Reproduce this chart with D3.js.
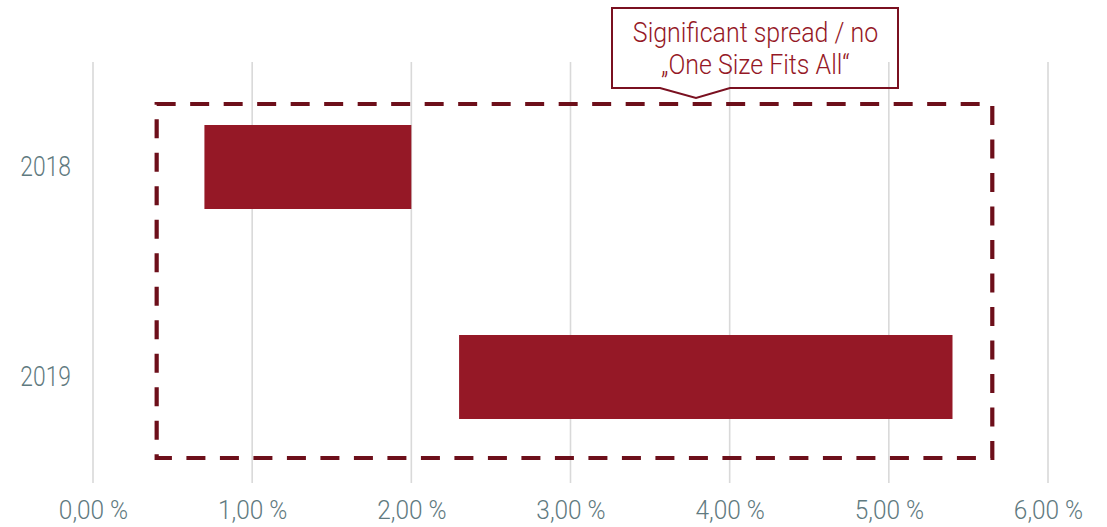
<!DOCTYPE html>
<html>
<head>
<meta charset="utf-8">
<script src="https://cdn.jsdelivr.net/npm/d3@7"></script>
<style>
  html, body { margin: 0; padding: 0; background: #fff; }
  svg { display: block; }
  text { font-family: Roboto, "Noto Sans", sans-serif; font-weight: 300; }
</style>
</head>
<body>
<svg id="chart" width="1107" height="527"></svg>
<script>
// Interest-rate range per year (percent)
const years = ["2018", "2019"];
const rangeLow = [0.70, 2.30];
const rangeHigh = [2.00, 5.40];
const xTicks = [0, 1, 2, 3, 4, 5, 6];
const highlightRange = [0.40, 5.65];
const calloutLines = ["Significant spread / no", "\u201EOne Size Fits All\u201C"];

const svg = d3.select("#chart");

const x = d3.scaleLinear().domain([0, 6]).range([93, 1048]);
const y = d3.scaleBand().domain(years).range([62, 482]).paddingInner(0.6).paddingOuter(0.3);

const axisColor = "#5f7a80";
const barColor = "#951826";
const frameColor = "#6d0f1a";

// vertical gridlines
svg.append("g").selectAll("line").data(xTicks).join("line")
  .attr("x1", d => x(d)).attr("x2", d => x(d))
  .attr("y1", 62).attr("y2", 483)
  .attr("stroke", "#d9d9d9").attr("stroke-width", 1.6);

// x axis labels (narrowed horizontally for a condensed look)
const fmt = d => d3.format(".2f")(d).replace(".", ",") + " %";
const xAxis = d3.axisBottom(x).tickValues(xTicks).tickFormat(fmt).tickSize(0).tickPadding(0);
const gx = svg.append("g").attr("transform", "translate(0,500)").call(xAxis);
gx.select(".domain").remove();
gx.selectAll("text")
  .attr("dy", "0.74em")
  .attr("fill", axisColor)
  .attr("transform", "scale(0.94,1)")
  .style("font-size", "26px")
  .style("font-family", "Roboto")
  .style("font-weight", "300");

// y axis labels
const yAxis = d3.axisLeft(y).tickSize(0).tickPadding(0);
const gy = svg.append("g").attr("transform", "translate(71,0)").call(yAxis);
gy.select(".domain").remove();
gy.selectAll("text")
  .attr("fill", axisColor)
  .attr("transform", "scale(0.83,1)")
  .style("font-size", "27.5px")
  .style("font-family", "Roboto")
  .style("font-weight", "300");

// floating range bars
svg.append("g").selectAll("rect").data(years).join("rect")
  .attr("x", (d, i) => x(rangeLow[i]))
  .attr("width", (d, i) => x(rangeHigh[i]) - x(rangeLow[i]))
  .attr("y", d => y(d))
  .attr("height", y.bandwidth())
  .attr("fill", barColor);

// dashed highlight frame
const fTop = y(years[0]) - 21;
const fBot = y(years[1]) + y.bandwidth() + 39;
svg.append("rect")
  .attr("x", x(highlightRange[0]))
  .attr("y", fTop)
  .attr("width", x(highlightRange[1]) - x(highlightRange[0]))
  .attr("height", fBot - fTop)
  .attr("fill", "none")
  .attr("stroke", frameColor)
  .attr("stroke-width", 4.2)
  .attr("stroke-dasharray", "19,14.5");

// callout box with pointer
const cx0 = 612, cx1 = 898, cy0 = 8, cy1 = 88;
const tipX = 696, tipY = 98;
const path = d3.path();
path.moveTo(tipX - 36, cy1);
path.lineTo(cx0, cy1);
path.lineTo(cx0, cy0);
path.lineTo(cx1, cy0);
path.lineTo(cx1, cy1);
path.lineTo(tipX + 34, cy1);
path.lineTo(tipX, tipY);
path.closePath();
svg.append("path")
  .attr("d", path.toString())
  .attr("fill", "none")
  .attr("stroke", "#7a1020")
  .attr("stroke-width", 2)
  .attr("stroke-linejoin", "miter");

svg.append("g").selectAll("g").data(calloutLines).join("g")
  .attr("transform", (d, i) => `translate(755.5,${42 + i * 32}) scale(0.89,1)`)
  .append("text")
  .attr("text-anchor", "middle")
  .attr("fill", barColor)
  .style("font-size", "28px")
  .style("font-family", "Roboto")
  .style("font-weight", "300")
  .text(d => d);
</script>
</body>
</html>
